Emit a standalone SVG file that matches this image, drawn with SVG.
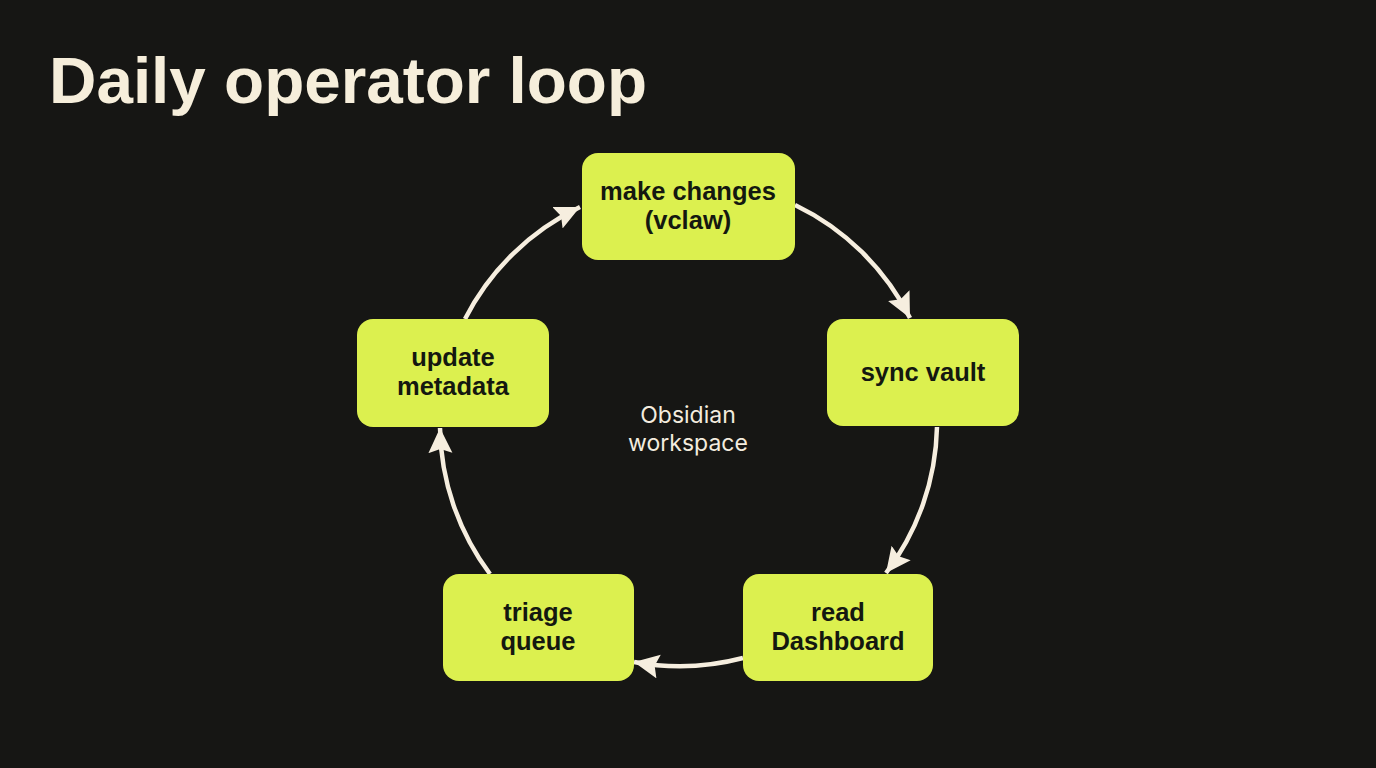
<svg xmlns="http://www.w3.org/2000/svg" width="1376" height="768" viewBox="0 0 1376 768">
<defs>
<marker id="ah" markerUnits="userSpaceOnUse" markerWidth="28" markerHeight="26" refX="25" refY="12" orient="auto">
<path d="M0,0 L25,12 L0,24 L4,12 Z" fill="#f6eedf"/>
</marker>
<style>
.node rect{fill:#dcf04f}
.node text{font-family:"Liberation Sans",Arial,sans-serif;font-weight:700;font-size:25.5px;fill:#141810;text-anchor:middle}
.edge{fill:none;stroke:#f6eedf;stroke-width:4.5;marker-end:url(#ah)}
</style>
</defs>
<rect width="1376" height="768" fill="#161614"/>
<text x="49" y="103" font-family="'Liberation Sans',Arial,sans-serif" font-weight="700" font-size="65" fill="#f6eedb" textLength="598" lengthAdjust="spacingAndGlyphs">Daily operator loop</text>
<g id="connectors">
<path class="edge" d="M795,205 A250,250 0 0 1 910,318"/>
<path class="edge" d="M937,427 A250,250 0 0 1 886,573"/>
<path class="edge" d="M743,658 A250,250 0 0 1 634,662"/>
<path class="edge" d="M490,574 A250,250 0 0 1 440,428"/>
<path class="edge" d="M465,319 A250,250 0 0 1 580,207"/>
</g>
<g id="center-label">
<text x="688" y="423" font-family="Inter,'Liberation Sans',sans-serif" font-size="23" fill="#f3ecdf" text-anchor="middle">Obsidian</text>
<text x="688" y="451" font-family="Inter,'Liberation Sans',sans-serif" font-size="23" fill="#f3ecdf" text-anchor="middle">workspace</text>
</g>
<g id="make-changes" class="node">
<rect x="582" y="153" width="213" height="107" rx="16"/>
<text x="688" y="200">make changes</text>
<text x="688" y="229">(vclaw)</text>
</g>
<g id="sync-vault" class="node">
<rect x="827" y="319" width="192" height="107" rx="16"/>
<text x="923" y="381">sync vault</text>
</g>
<g id="read-dashboard" class="node">
<rect x="743" y="574" width="190" height="107" rx="16"/>
<text x="838" y="621">read</text>
<text x="838" y="650">Dashboard</text>
</g>
<g id="triage-queue" class="node">
<rect x="443" y="574" width="191" height="107" rx="16"/>
<text x="538" y="621">triage</text>
<text x="538" y="650">queue</text>
</g>
<g id="update-metadata" class="node">
<rect x="357" y="319" width="192" height="108" rx="16"/>
<text x="453" y="366">update</text>
<text x="453" y="395">metadata</text>
</g>
</svg>
